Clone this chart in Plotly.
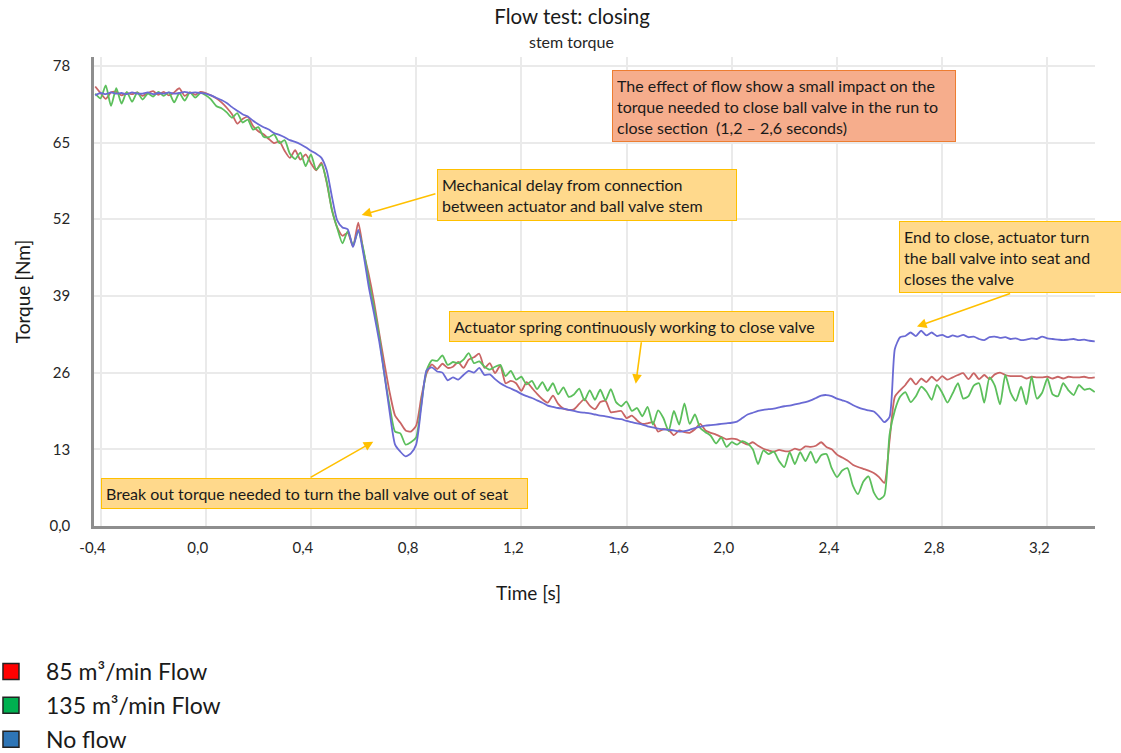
import numpy as np
import plotly.graph_objects as go

# ---------------- data ----------------
# sample times: -0.42 s ... 3.38 s every 0.02 s (191 samples)
time_s = np.round(np.arange(-0.42, 3.3801, 0.02), 2)

no_flow = [
    73.0, 73.4, 73.2, 73.5, 73.3, 73.4, 73.2, 73.5, 73.3, 73.3,
    73.5, 73.2, 73.4, 73.3, 73.5, 73.3, 73.4, 73.6, 73.4, 73.5,
    73.4, 73.3, 73.0, 72.6, 72.2, 71.7, 71.0, 70.4, 69.8, 69.4,
    68.7, 68.1, 67.6, 67.2, 66.6, 66.3, 65.9, 65.4, 65.1, 64.7,
    64.2, 63.6, 63.1, 62.4, 60.3, 55.8, 51.8, 50.6, 50.3, 47.3,
    50.2, 46.0, 40.5, 36.0, 31.2, 25.5, 19.1, 13.8, 12.6, 11.8,
    12.3, 13.8, 20.3, 26.4, 26.9, 26.2, 26.0, 24.7, 25.2, 24.8,
    25.6, 26.3, 26.0, 26.8, 25.6, 25.7, 24.9, 24.2, 23.7, 23.3,
    22.9, 22.4, 22.0, 21.7, 21.3, 20.9, 20.4, 20.2, 20.0, 19.9,
    19.7, 19.5, 19.3, 19.2, 19.1, 18.9, 18.7, 18.6, 18.4, 18.2,
    18.1, 17.8, 17.6, 17.4, 17.2, 16.9, 16.7, 16.5, 16.4, 16.3,
    16.2, 16.0, 16.1, 16.3, 16.6, 16.8, 17.0, 17.1, 17.2, 17.3,
    17.4, 17.5, 17.7, 18.3, 18.9, 19.2, 19.5, 19.7, 19.8, 19.9,
    20.1, 20.3, 20.4, 20.6, 20.8, 21.0, 21.3, 21.7, 22.1, 22.2,
    22.0, 21.6, 21.3, 21.0, 20.5, 20.1, 19.8, 19.6, 19.4, 18.6,
    17.6, 18.5, 30.0, 32.0, 32.2, 32.8, 32.2, 33.1, 32.3, 32.8,
    32.2, 32.4, 32.0, 32.3, 32.1, 32.4, 32.0, 32.1, 31.7, 31.5,
    32.0, 32.1, 31.9, 32.0, 31.7, 31.8, 31.5, 31.6, 31.8, 31.7,
    32.1, 31.8, 31.7, 31.6, 31.5, 31.6, 31.7, 31.5, 31.6, 31.4,
    31.3,
]

flow_85 = [
    74.5, 73.4, 72.4, 73.5, 73.6, 73.0, 73.4, 73.2, 73.5, 72.9,
    73.4, 73.7, 73.1, 73.6, 73.0, 73.5, 74.2, 72.9, 73.5, 73.1,
    73.6, 73.4, 73.0, 72.5, 71.8, 70.9, 69.8, 68.2, 69.0, 69.4,
    67.8, 66.9, 66.4, 65.6, 64.9, 65.2, 63.6, 62.4, 63.7, 62.1,
    63.0, 61.5, 60.3, 61.6, 58.2, 53.6, 50.6, 49.2, 49.7, 47.4,
    51.4, 46.5, 42.6, 38.0, 32.6, 27.4, 22.5, 18.7, 17.5, 16.2,
    16.0, 17.0, 21.9, 25.9, 27.4, 26.6, 27.5, 26.8, 27.0, 27.8,
    26.8, 28.2, 28.6, 29.2, 26.8, 27.6, 25.9, 27.2, 24.2, 24.6,
    24.2, 22.9, 24.4, 23.4, 22.4, 21.5, 20.9, 22.1, 20.7, 19.9,
    19.7, 19.8, 20.7, 21.5, 20.4, 19.8, 21.0, 21.2, 19.3, 19.4,
    19.5, 18.3, 18.7, 17.9, 17.3, 17.4, 17.6, 16.0, 16.4, 16.3,
    15.4, 16.2, 15.9, 15.8, 16.4, 17.3, 16.2, 15.8, 15.5, 15.1,
    14.7, 14.8, 14.7, 14.2, 13.8, 14.2, 13.6, 13.1, 12.8, 12.6,
    12.9, 12.7, 12.7, 13.1, 12.9, 13.5, 13.4, 13.6, 14.2, 13.4,
    13.0, 12.1, 11.6, 11.1, 10.4, 10.0, 9.7, 9.4, 9.0, 8.3,
    7.3, 14.5, 21.9, 23.0, 23.9, 25.0, 24.0, 25.0, 24.4, 25.3,
    24.6, 25.4, 24.8, 25.2, 25.6, 25.9, 24.9, 25.9, 24.9, 25.6,
    24.9, 25.7, 26.0, 25.6, 25.4, 25.4, 25.4, 25.0, 25.3, 25.2,
    25.2, 25.3, 25.0, 25.3, 25.0, 25.3, 25.2, 25.2, 25.3, 25.1,
    25.2,
]

flow_135 = [
    73.3, 72.5, 74.7, 71.2, 74.2, 71.6, 73.6, 71.9, 73.5, 72.3,
    73.3, 72.8, 73.6, 72.9, 73.5, 71.8, 73.4, 72.1, 73.5, 72.6,
    73.4, 73.0, 72.3, 71.2, 70.8, 70.1, 69.2, 70.0, 68.4, 68.9,
    67.2, 67.6, 66.0, 65.9, 66.4, 64.9, 65.4, 63.1, 62.2, 63.3,
    61.0, 63.0, 60.4, 61.3, 58.4, 53.5, 50.5, 47.9, 50.0, 47.6,
    50.0, 46.8, 41.5, 37.0, 32.0, 25.5, 20.2, 16.0, 15.7, 13.8,
    14.2, 15.0, 20.8, 26.4, 28.1, 28.0, 28.9, 27.3, 27.8, 27.6,
    28.2, 29.3, 27.6, 27.9, 27.0, 26.5, 27.0, 27.3, 25.4, 26.3,
    24.8, 25.3, 24.0, 24.6, 23.2, 24.4, 22.9, 24.2, 22.3, 23.5,
    21.9, 22.3, 23.3, 21.3, 23.0, 21.4, 23.1, 21.3, 23.2, 21.0,
    20.3, 21.1, 19.5, 20.0, 18.6, 20.2, 17.2, 19.6, 18.3, 16.1,
    19.5, 17.2, 20.8, 17.3, 18.9, 16.6, 15.9, 15.3, 14.0, 15.0,
    13.4, 14.2, 13.8, 14.4, 14.0, 13.0, 10.5, 12.8, 12.2, 12.6,
    11.0, 10.0, 12.5, 10.5, 12.5, 11.0, 12.6, 10.7, 12.0, 12.2,
    9.8, 8.3, 9.4, 9.8, 6.9, 5.4, 7.5, 8.4, 5.7, 4.5,
    5.2, 15.5, 19.6, 21.9, 22.7, 21.0, 22.0, 23.6, 22.8, 21.4,
    23.9, 22.6, 20.9, 22.5, 24.2, 21.6, 22.0, 23.8, 24.2, 20.9,
    25.2, 23.8, 20.6, 25.6, 22.6, 21.2, 23.6, 20.6, 25.3, 21.6,
    22.6, 25.0, 22.3, 22.0, 24.2, 23.0, 22.2, 23.9, 23.1, 23.3,
    22.7,
]

series_names = ["85 m³/min Flow", "135 m³/min Flow", "No flow"]
x_tick_vals = [-0.4, 0.0, 0.4, 0.8, 1.2, 1.6, 2.0, 2.4, 2.8, 3.2]
x_tick_text = ["-0,4", "0,0", "0,4", "0,8", "1,2", "1,6", "2,0", "2,4", "2,8", "3,2"]
y_tick_vals = [0, 13, 26, 39, 52, 65, 78]
y_tick_text = ["0,0", "13", "26", "39", "52", "65", "78"]

# ---------------- styling ----------------
FONT = "Lato"
line_colors = ["#C96565", "#5CBF5C", "#6A6AD4"]
swatch_colors = ["#FF0000", "#00B050", "#2E75B6"]
series_values = [flow_85, flow_135, no_flow]

fig = go.Figure()
for name, vals, col in zip(series_names, series_values, line_colors):
    fig.add_trace(go.Scatter(
        x=time_s, y=vals, mode="lines", name=name, showlegend=False,
        legendgroup=name,
        line=dict(color=col, width=1.8, shape="spline", smoothing=0.6),
    ))
for name, col in zip(series_names, swatch_colors):
    fig.add_trace(go.Scatter(
        x=[None], y=[None], mode="markers", name=name, legendgroup=name,
        marker=dict(symbol="square", size=16, color=col,
                    line=dict(color="#222222", width=1.5)),
    ))

grid_col = "#EAEAEA"
axis_col = "#8E8E8E"

fig.update_layout(
    width=1121, height=753,
    margin=dict(l=94, r=26, t=57, b=227, autoexpand=False),
    paper_bgcolor="white", plot_bgcolor="white",
    font=dict(family=FONT, size=15, color="#262626"),
    title=dict(
        text="Flow test: closing",
        x=0.5103, xanchor="center", xref="container",
        y=1 - 17 / 753, yanchor="middle", yref="container",
        font=dict(family=FONT, size=20.5, color="#1a1a1a"),
    ),
    xaxis=dict(
        range=[-0.4247, 3.381], tickvals=x_tick_vals, ticktext=x_tick_text,
        showgrid=True, gridcolor=grid_col, gridwidth=1.5,
        showline=True, linecolor=axis_col, linewidth=2.5,
        ticks="outside", ticklen=6, tickcolor="rgba(0,0,0,0)",
        ticklabelshift=-8,
        tickfont=dict(size=15, color="#262626"), zeroline=False,
    ),
    yaxis=dict(
        range=[0, 79.5], tickvals=y_tick_vals, ticktext=y_tick_text,
        showgrid=True, gridcolor=grid_col, gridwidth=1.5,
        showline=True, linecolor=axis_col, linewidth=2.5,
        ticks="outside", ticklen=18, tickcolor="rgba(0,0,0,0)",
        tickfont=dict(size=15, color="#262626"), zeroline=False,
        title=dict(text="Torque [Nm]", standoff=14,
                   font=dict(size=19, color="#1a1a1a")),
    ),
    legend=dict(
        x=-0.1179, xanchor="left", y=-0.2644, yanchor="top",
        font=dict(size=23, color="#1a1a1a"), bgcolor="rgba(0,0,0,0)",
        tracegroupgap=1, itemwidth=60, traceorder="grouped",
    ),
)

# subtitle
fig.add_annotation(text="stem torque", xref="paper", yref="paper",
                   x=(571 - 94) / 1001, y=(526 - 42) / 469,
                   xanchor="center", yanchor="middle", showarrow=False,
                   font=dict(size=16, color="#262626"))

# x-axis title (placed left of centre as in the reference)
fig.add_annotation(text="Time [s]", xref="paper", yref="paper",
                   x=(528 - 94) / 1001, y=(526 - 592) / 469,
                   xanchor="center", yanchor="middle", showarrow=False,
                   font=dict(size=19, color="#1a1a1a"))

# ---------------- call-out boxes ----------------
YEL_BG, YEL_BD = "#FFD98C", "#FFC000"
SAL_BG, SAL_BD = "#F6AD8C", "#ED7D31"

boxes = [
    # text, left t, top y, width, height, bg, border
    ("The effect of flow show a small impact on the<br>torque needed to close ball valve in the run to<br>close section  (1,2 – 2,6 seconds)",
     1.543, 77.3, 333.5, 62.4, SAL_BG, SAL_BD),
    ("Mechanical delay from connection<br>between actuator and ball valve stem",
     0.879, 60.5, 290, 41.6, YEL_BG, YEL_BD),
    ("End to close, actuator turn<br>the ball valve into seat and<br>closes the valve",
     2.634, 51.7, 216, 62.4, YEL_BG, YEL_BD),
    ("Actuator spring continuously working to close valve",
     0.925, 36.5, 374.7, 21, YEL_BG, YEL_BD),
    ("Break out torque needed to turn the ball valve out of seat",
     -0.400, 8.08, 417, 21, YEL_BG, YEL_BD),
]
for text, bx, by, bw, bh, bg, bd in boxes:
    fig.add_annotation(text=text, x=bx, y=by, xref="x", yref="y",
                       xanchor="left", yanchor="top", showarrow=False,
                       align="left", valign="middle", width=bw, height=bh,
                       bgcolor=bg, bordercolor=bd, borderwidth=1, borderpad=4,
                       font=dict(size=16, color="#1a1a1a"))

# arrows: (head t, head y, tail t, tail y)
arrows = [
    (0.593, 52.7, 0.879, 56.4),
    (2.704, 33.8, 3.064, 39.5),
    (1.635, 24.1, 1.657, 31.4),
    (0.637, 14.3, 0.393, 8.1),
]
for hx, hy, tx, ty in arrows:
    fig.add_annotation(text="", x=hx, y=hy, ax=tx, ay=ty,
                       xref="x", yref="y", axref="x", ayref="y",
                       showarrow=True, arrowhead=2, arrowsize=1.2,
                       arrowwidth=1.6, arrowcolor="#FFC000")

fig.write_html("out.html",
               config={"displayModeBar": False},
               post_script="document.body.style.margin='0px';")
